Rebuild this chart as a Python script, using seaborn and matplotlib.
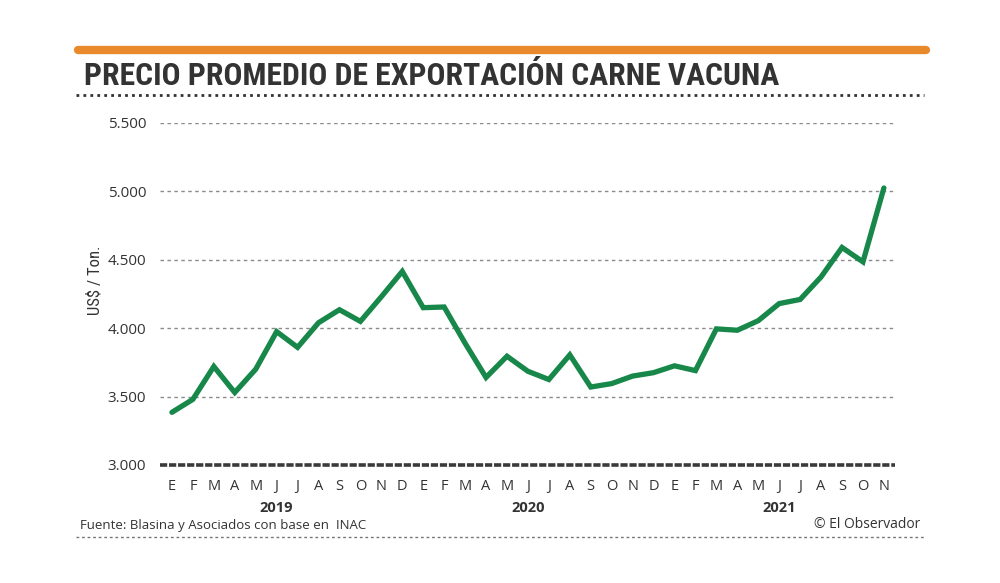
import matplotlib

matplotlib.use("Agg")
import matplotlib.pyplot as plt
import pandas as pd
import seaborn as sns
from matplotlib import font_manager
from matplotlib.lines import Line2D

# monthly average export price, Jan 2019 - Nov 2021 (US$ / Ton.)
months = list("EFMAMJJASOND") * 2 + list("EFMAMJJASON")
years = ["2019", "2020", "2021"]
year_tick_pos = [5, 17, 29]
prices = [
    3385, 3480, 3720, 3530, 3700, 3975, 3860, 4040, 4135, 4050, 4230, 4415,
    4150, 4155, 3890, 3640, 3795, 3685, 3625, 3805, 3570, 3595, 3650, 3675,
    3725, 3690, 3995, 3985, 4055, 4180, 4210, 4375, 4590, 4485, 5025,
]
y_ticks = [3000, 3500, 4000, 4500, 5000, 5500]

df = pd.DataFrame({"idx": range(len(prices)), "price": prices})

sns.set_theme(style="white")
plt.rcParams["font.family"] = ["Open Sans", "DejaVu Sans"]

TEXT = "#333333"
GREEN = "#17874A"
ORANGE = "#E8892B"


def narrow_family():
    # look for any condensed / narrow face that happens to be installed
    names = {f.name for f in font_manager.fontManager.ttflist}
    for cand in ["Liberation Sans Narrow", "Roboto Condensed", "Open Sans Condensed",
                 "DejaVu Sans Condensed", "Noto Sans Condensed"]:
        if cand in names:
            return cand
    for f in font_manager.fontManager.ttflist:
        if f.stretch in ("condensed", "semi-condensed") or "Narrow" in f.name:
            return f.name
    return "Roboto"


NARROW = narrow_family()

fig = plt.figure(figsize=(10, 5.83), dpi=100)
fig.patch.set_facecolor("white")
ax = fig.add_axes([0.16, 1 - 465 / 583, 0.735, (465 - 123) / 583])

for y in y_ticks[1:]:
    ax.axhline(y, color="#8a8a8a", lw=1.0, ls=(0, (2.5, 2.5)), zorder=1)
ax.axhline(3000, color="#3a3a3a", lw=2.6, ls=(0, (2, 0.5)), zorder=1, clip_on=False)

sns.lineplot(data=df, x="idx", y="price", ax=ax, color=GREEN, lw=3.8,
             solid_joinstyle="miter", zorder=3)

ax.set_xlim(-0.57, 34.53)
ax.set_ylim(3000, 5500)
sns.despine(ax=ax, left=True, bottom=True)
ax.set_facecolor("white")
ax.grid(False)

ax.set_yticks(y_ticks)
ax.set_yticklabels([f"{v:,}".replace(",", ".") for v in y_ticks])
ax.tick_params(axis="y", length=0, pad=10, labelsize=11, labelcolor=TEXT)
ax.set_xticks(range(len(months)))
ax.set_xticklabels(months)
ax.tick_params(axis="x", length=0, pad=10, labelsize=10.5, labelcolor=TEXT)
ax.set_xlabel("")
ax.set_ylabel("US$ / Ton.", fontsize=12, color=TEXT, family=[NARROW, "DejaVu Sans"])
ax.yaxis.set_label_coords(-0.078, 0.54)

for pos, yr in zip(year_tick_pos, years):
    ax.text(pos, -0.125, yr, transform=ax.get_xaxis_transform(), ha="center",
            va="center", fontsize=10.5, fontweight="bold", color=TEXT)

# header: orange bar, title, dotted rule
fig.add_artist(Line2D([78 / 1000, 926 / 1000], [1 - 50 / 583] * 2, color=ORANGE,
                      lw=6, solid_capstyle="round"))
title = fig.text(84 / 1000, 1 - 76 / 583, "PRECIO PROMEDIO DE EXPORTACIÓN CARNE VACUNA",
                 fontsize=20, fontweight="bold", color=TEXT, va="center", ha="left",
                 family=[NARROW, "DejaVu Sans"])
# size the title so it spans about 695 px, as in the original layout
renderer = fig.canvas.get_renderer()
w = title.get_window_extent(renderer).width
title.set_fontsize(min(24, 20 * 695 / w))
fig.add_artist(Line2D([76 / 1000, 924 / 1000], [1 - 95 / 583] * 2, color=TEXT,
                      lw=2, ls=(0, (1, 1.5))))

# footer
fig.text(80 / 1000, 1 - 525 / 583, "Fuente: Blasina y Asociados con base en  INAC",
         fontsize=9.5, color=TEXT, va="center", ha="left")
fig.text(920 / 1000, 1 - 524 / 583, "© El Observador", fontsize=10, color=TEXT,
         va="center", ha="right")
fig.add_artist(Line2D([76 / 1000, 924 / 1000], [1 - 537 / 583] * 2, color="#777777",
                      lw=1, ls=(0, (2, 2))))

fig.savefig("out.png", dpi=100, facecolor="white")
